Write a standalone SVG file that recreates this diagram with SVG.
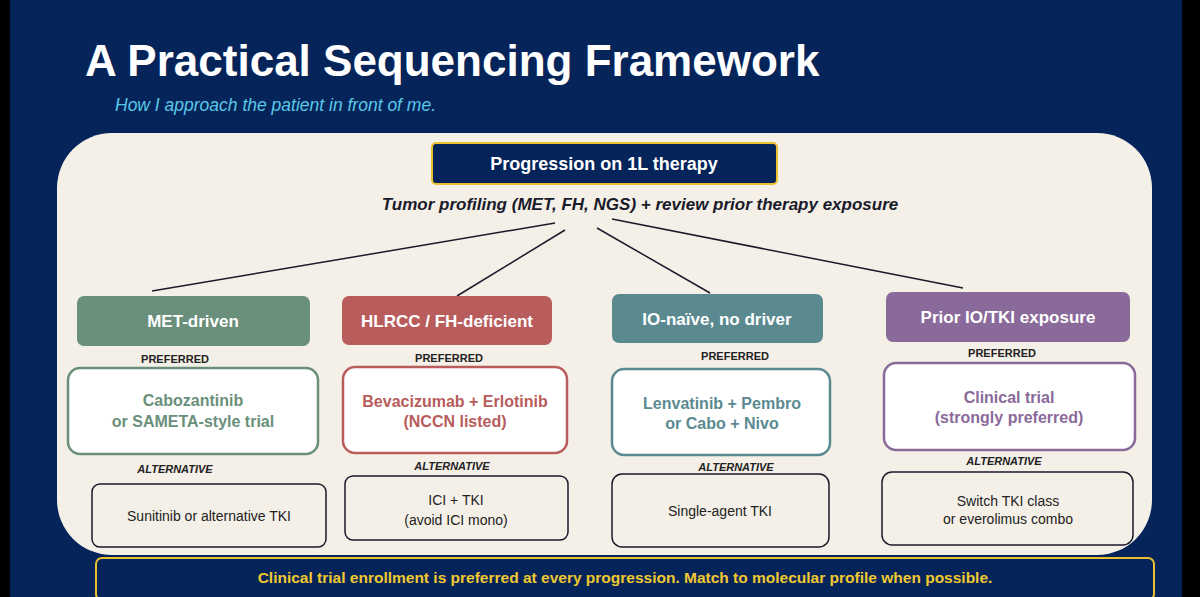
<svg xmlns="http://www.w3.org/2000/svg" width="1200" height="597" viewBox="0 0 1200 597">
<style>
text{font-family:"Liberation Sans",Arial,sans-serif;text-anchor:middle}
.h{font-size:17px;font-weight:bold;fill:#fff}
.lab{font-size:11px;font-weight:bold;fill:#222}
.alt{font-size:11px;font-weight:bold;font-style:italic;fill:#222}
.p{font-size:16px;font-weight:bold}
.a{font-size:14px;fill:#222}
.box{fill:#fff;stroke-width:2.5}
.abox{fill:#f4f0e8;stroke:#1a1a2a;stroke-width:1.5}
</style>
<rect width="1200" height="597" fill="#05245a"/>
<rect width="10" height="597" fill="#000"/>
<rect x="1182" width="18" height="597" fill="#000"/>
<text x="85" y="76" style="font-size:44px;font-weight:bold;fill:#fff;text-anchor:start">A Practical Sequencing Framework</text>
<text x="115" y="111" style="font-size:17.5px;font-style:italic;fill:#5ac8e8;text-anchor:start">How I approach the patient in front of me.</text>
<rect x="57" y="133" width="1095" height="422" rx="55" fill="#f4f0e8"/>
<g id="top">
<rect x="432" y="143" width="345" height="41" rx="4" fill="#05245a" stroke="#e8c030" stroke-width="2"/>
<text x="604" y="170" class="h" style="font-size:18px">Progression on 1L therapy</text>
<text x="640" y="210" style="font-size:17px;font-weight:bold;font-style:italic;fill:#1a1a2a">Tumor profiling (MET, FH, NGS) + review prior therapy exposure</text>
</g>
<g id="connectors" stroke="#1a1a2a" stroke-width="1.5">
<line x1="555" y1="223" x2="152" y2="291"/>
<line x1="565" y1="230" x2="457" y2="296"/>
<line x1="597" y1="228" x2="710" y2="293"/>
<line x1="612" y1="219" x2="963" y2="288"/>
</g>
<g id="met">
<rect x="77" y="296" width="233" height="50" rx="7" fill="#6a8f7a"/>
<text x="193" y="327" class="h">MET-driven</text>
<text x="175" y="363" class="lab">PREFERRED</text>
<rect x="68" y="368" width="250" height="86" rx="12" class="box" stroke="#6a8f7a"/>
<text x="193" y="406" class="p" fill="#6a8f7a">Cabozantinib</text>
<text x="193" y="427" class="p" fill="#6a8f7a">or SAMETA-style trial</text>
<text x="175" y="473" class="alt">ALTERNATIVE</text>
<rect x="92" y="484" width="234" height="63" rx="8" class="abox"/>
<text x="209" y="521" class="a">Sunitinib or alternative TKI</text>
</g>
<g id="hlrcc">
<rect x="342" y="296" width="210" height="49" rx="7" fill="#b85c5c"/>
<text x="447" y="327" class="h">HLRCC / FH-deficient</text>
<text x="449" y="362" class="lab">PREFERRED</text>
<rect x="343" y="367" width="224" height="86" rx="12" class="box" stroke="#b85c5c"/>
<text x="455" y="407" class="p" fill="#b85c5c">Bevacizumab + Erlotinib</text>
<text x="455" y="427" class="p" fill="#b85c5c">(NCCN listed)</text>
<text x="452" y="470" class="alt">ALTERNATIVE</text>
<rect x="345" y="476" width="223" height="64" rx="8" class="abox"/>
<text x="456" y="505" class="a">ICI + TKI</text>
<text x="456" y="525" class="a">(avoid ICI mono)</text>
</g>
<g id="io">
<rect x="612" y="294" width="211" height="49" rx="7" fill="#5a8a90"/>
<text x="717" y="325" class="h">IO-naïve, no driver</text>
<text x="735" y="360" class="lab">PREFERRED</text>
<rect x="612" y="369" width="218" height="86" rx="12" class="box" stroke="#5a8a90"/>
<text x="722" y="409" class="p" fill="#5a8a90">Lenvatinib + Pembro</text>
<text x="722" y="429" class="p" fill="#5a8a90">or Cabo + Nivo</text>
<text x="736" y="471" class="alt">ALTERNATIVE</text>
<rect x="612" y="474" width="217" height="73" rx="10" class="abox"/>
<text x="720" y="516" class="a">Single-agent TKI</text>
</g>
<g id="prior">
<rect x="886" y="292" width="244" height="50" rx="7" fill="#8a6a9a"/>
<text x="1008" y="323" class="h">Prior IO/TKI exposure</text>
<text x="1002" y="357" class="lab">PREFERRED</text>
<rect x="884" y="363" width="251" height="87" rx="12" class="box" stroke="#8a6a9a"/>
<text x="1009" y="403" class="p" fill="#8a6a9a">Clinical trial</text>
<text x="1009" y="423" class="p" fill="#8a6a9a">(strongly preferred)</text>
<text x="1004" y="465" class="alt">ALTERNATIVE</text>
<rect x="882" y="472" width="251" height="73" rx="10" class="abox"/>
<text x="1008" y="506" class="a">Switch TKI class</text>
<text x="1008" y="524" class="a">or everolimus combo</text>
</g>
<g id="banner">
<rect x="96" y="558" width="1058" height="42" rx="6" fill="#05245a" stroke="#e8c030" stroke-width="2"/>
<text x="625" y="583" style="font-size:15.5px;font-weight:bold;fill:#f0c830">Clinical trial enrollment is preferred at every progression. Match to molecular profile when possible.</text>
</g>
</svg>
